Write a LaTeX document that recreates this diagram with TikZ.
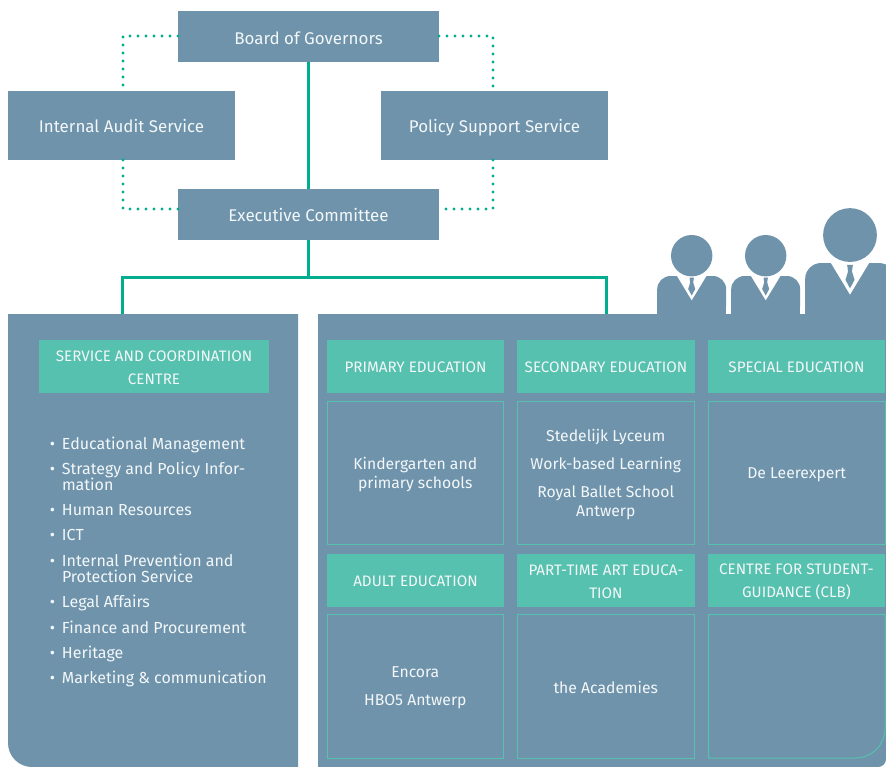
\documentclass[tikz,border=0pt]{standalone}
\usepackage{fontspec}
\setmainfont{Fira Sans}
\definecolor{panelblue}{HTML}{6E93AB}
\definecolor{headteal}{HTML}{56C1AE}
\definecolor{linegreen}{HTML}{00AE8F}
\definecolor{softwhite}{HTML}{F3F7F9}
\newcommand\bx[7]{\node[#6, minimum width={(#4-#2)*0.75pt}, minimum height={(#5-#3)*0.75pt}] (#1) at ({(#2+#4)/2},{(#3+#5)/2}) {};
 \node[#6text] (#1text) at (#1.center) {#7};}
\newcommand\ppl[5]{%
 \begin{scope}[shift={(#1,#2)},scale=#3]
  \fill[panelblue,rounded corners=#4] (-34.5,42) -- (-34.5,0) -- (34.5,0) -- (34.5,42) -- cycle;
  \fill[panelblue] (-34.5,20) rectangle (34.5,42);
  \fill[white] (-14.7,0) -- (0,24.3) -- (14.7,0) -- cycle;
  \fill[panelblue] (-2.2,1.5) -- (2.2,1.5) -- (1.5,6.5) -- (3.5,13) -- (0,19.5) -- (-3.5,13) -- (-1.5,6.5) -- cycle;
  \fill[panelblue] (0,#5) circle (20.7);
 \end{scope}}
\tikzset{
  shapebase/.style={inner sep=0pt,outer sep=0pt},
  whitetext/.style={text=softwhite,inner sep=0pt,outer sep=0pt,align=center},
  bluebox/.style={shapebase,fill=panelblue},
  blueboxtext/.style={whitetext,yshift=-1.5pt,font=\fontsize{12.7}{15}\selectfont},
  headbox/.style={shapebase,fill=headteal},
  headboxtext/.style={whitetext,yshift=-.75pt,font=\fontsize{11.4}{17.25}\selectfont},
  cellbox/.style={shapebase,draw=headteal,line width=.75pt},
  cellboxtext/.style={whitetext,yshift=-1.2pt,font=\fontsize{11.8}{14.25}\selectfont},
  listitem/.style={text=softwhite,inner sep=0pt,outer sep=0pt,anchor=north west,align=left,font=\fontsize{12}{12}\selectfont},
  trunk/.style={draw=linegreen,line width=2.25pt},
  dots/.style={draw=linegreen,line width=2.5pt,line cap=round,dash pattern=on 0pt off 6pt}
}
\begin{document}
\begin{tikzpicture}[x=.75pt,y=-.75pt]
\useasboundingbox (0,0) rectangle (886,767);
\clip (0,0) rectangle (886,767);
% panels
\fill[panelblue] (298,314) -- (298,767) [rounded corners=18pt] -- (8,767) [sharp corners] -- (8,314) -- cycle;
\fill[panelblue] (318,314) -- (886,314) [rounded corners=6pt] -- (886,767) [sharp corners] -- (318,767) -- cycle;
\coordinate (leftdrop) at (122,314);
\coordinate (rightdrop) at (606,314);
\coordinate (auditcorner1) at (123,36);
\coordinate (auditcorner2) at (123,209);
\coordinate (policycorner1) at (493,36);
\coordinate (policycorner2) at (493,209);
% people
\ppl{691.7}{276}{1}{10pt}{-20.3}
\ppl{765.7}{276}{1}{10pt}{-20.3}
\ppl{850}{263}{1.3}{12pt}{-21.5}
% connectors (drawn under the boxes)
\coordinate (boardfoot) at (308,62);
% boxes
\bx{board}{178}{11}{439}{62}{bluebox}{Board of Governors}
\bx{audit}{8}{91}{235}{160}{bluebox}{Internal Audit Service\vphantom{g}}
\bx{policy}{381}{91}{608}{160}{bluebox}{Policy Support Service}
\bx{exec}{178}{189}{439}{240}{bluebox}{Executive Committee\vphantom{g}}
\draw[trunk] (board.south) -- (exec.north);
\draw[trunk] (exec.south) -- ++(0,37) coordinate (split);
\draw[trunk] (leftdrop) |- (split) -| (rightdrop);
\draw[dots] (board.west |- auditcorner1) -- (auditcorner1) -- (audit.north -| auditcorner1);
\draw[dots] (board.east |- policycorner1) -- (policycorner1) -- (policy.north -| policycorner1);
\draw[dots] (audit.south -| auditcorner2) -- (auditcorner2) -- (exec.west |- auditcorner2);
\draw[dots] (policy.south -| policycorner2) -- (policycorner2) -- (exec.east |- policycorner2);
% headers
\bx{service}{39}{340}{269}{393}{headbox}{SERVICE AND COORDINATION\\CENTRE}
\bx{primary}{327}{340}{504}{393}{headbox}{PRIMARY EDUCATION}
\bx{secondary}{517}{340}{695}{393}{headbox}{SECONDARY EDUCATION}
\bx{special}{708}{340}{885}{393}{headbox}{SPECIAL EDUCATION}
\bx{adult}{327}{554}{504}{607}{headbox}{ADULT EDUCATION}
\bx{parttime}{517}{554}{695}{607}{headbox}{PART-TIME ART EDUCA-\\TION}
\bx{clb}{708}{554}{885}{607}{headbox}{CENTRE FOR STUDENT-\\GUIDANCE (CLB)}
% cells
\bx{cella}{327.5}{401.5}{503}{544}{cellbox}{Kindergarten and\\primary schools}
\bx{cellb}{517.5}{401.5}{694}{544}{cellbox}{Stedelijk Lyceum\\[6.75pt]Work-based Learning\\[6.75pt]Royal Ballet School\\Antwerp}
\bx{cellc}{708.5}{401.5}{885}{544}{cellbox}{De Leerexpert}
\bx{celld}{327.5}{614.5}{503}{758}{cellbox}{Encora\\[6.75pt]HBO5 Antwerp}
\bx{celle}{517.5}{614.5}{694}{758}{cellbox}{the Academies}
\draw[headteal,line width=.75pt] (708.5,614.5) -- (885,614.5) [rounded corners=22pt] -- (885,758) [sharp corners] -- (708.5,758) -- cycle;
% list
\newcommand\itm[3]{\node[listitem] (#1) at (62,#2) {\llap{•\hspace{5.2pt}}#3};}
\itm{i1}{437}{Educational Management}
\itm{i2}{462}{Strategy and Policy Infor-\\mation}
\itm{i3}{504}{Human Resources}
\itm{i4}{529}{ICT}
\itm{i5}{554}{Internal Prevention and\\Protection Service}
\itm{i6}{595}{Legal Affairs}
\itm{i7}{621}{Finance and Procurement}
\itm{i8}{646}{Heritage}
\itm{i9}{671}{Marketing \& communication}
\end{tikzpicture}
\end{document}
